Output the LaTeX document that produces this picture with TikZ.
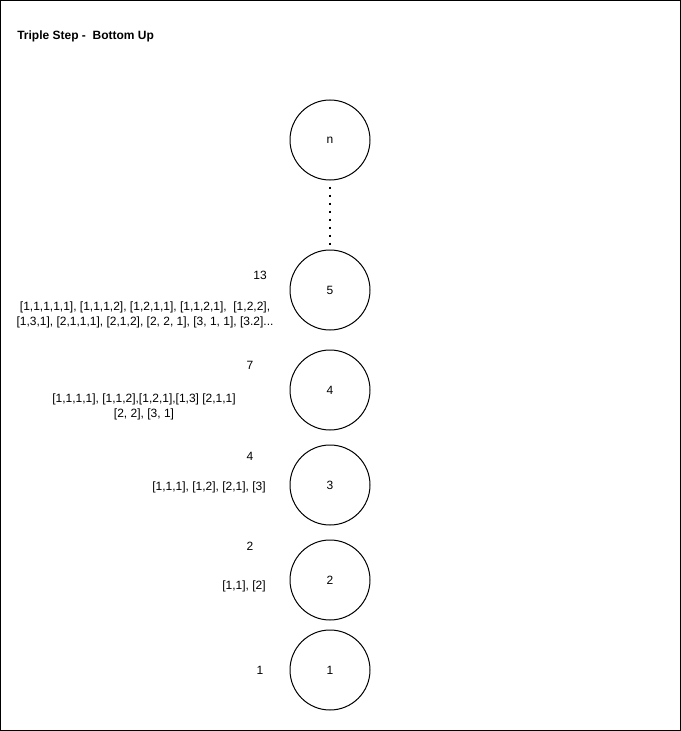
\documentclass[tikz,border=0pt]{standalone}
\usepackage{fontspec}
\setmainfont{Liberation Sans}
\begin{document}
\begin{tikzpicture}[x=0.75pt,y=-0.75pt,
  stepnode/.style={circle,draw,line width=0.75pt,minimum size=60pt,inner sep=0pt,font=\fontsize{9}{10.8}\selectfont},
  count/.style={font=\fontsize{9}{10.8}\selectfont,inner sep=0pt},
  ways/.style={font=\fontsize{9}{11.2}\selectfont,align=center,inner sep=0pt}]
  \useasboundingbox (0,0) rectangle (681,731);
  \draw[line width=0.75pt] (0.5,0.5) rectangle (680.5,730.5);
  \node[anchor=west,inner sep=0pt,font=\bfseries\fontsize{9}{10.8}\selectfont] (title) at (17,36) {Triple Step -\ \ Bottom Up};
  % steps
  \node[stepnode] (sn) at (330,140) {n};
  \node[stepnode] (s5) at (330,290) {5};
  \node[stepnode] (s4) at (330,390) {4};
  \node[stepnode] (s3) at (330,485) {3};
  \node[stepnode] (s2) at (330,580) {2};
  \node[stepnode] (s1) at (330,670) {1};
  \draw[line width=1.5pt,dash pattern=on 1.5pt off 4.5pt,dash phase=1.5pt,shorten >=3pt] (sn.south) -- (s5.north);
  % counts and ways
  \node[count] (c5) at (260,275) {13};
  \node[ways] (w5) at (145,315) {[1,1,1,1,1], [1,1,1,2], [1,2,1,1], [1,1,2,1],\ \ [1,2,2],\\{}[1,3,1], [2,1,1,1], [2,1,2], [2, 2, 1], [3, 1, 1], [3.2]...};
  \node[count] (c4) at (250,365) {7};
  \node[ways] (w4) at (144,407) {[1,1,1,1], [1,1,2],[1,2,1],[1,3] [2,1,1]\\{}[2, 2], [3, 1]};
  \node[count] (c3) at (250,456) {4};
  \node[ways] (w3) at (209,487) {[1,1,1], [1,2], [2,1], [3]};
  \node[count] (c2) at (250,546) {2};
  \node[ways] (w2) at (244,586) {[1,1], [2]};
  \node[count] (c1) at (260,670) {1};
\end{tikzpicture}
\end{document}
